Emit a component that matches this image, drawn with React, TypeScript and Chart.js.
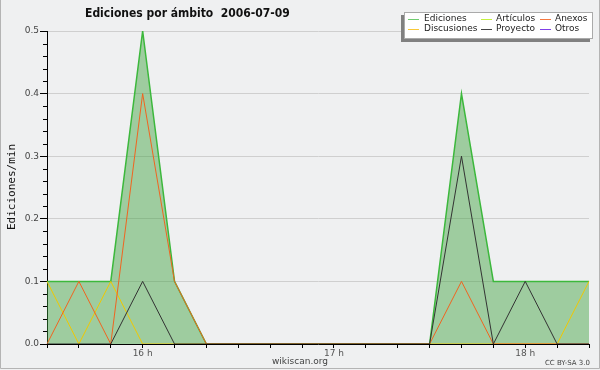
import React, { useEffect, useRef } from "react";
import { Chart, registerables } from "chart.js";

Chart.register(...registerables);

const times = ["15:30","15:40","15:50","16:00","16:10","16:20","16:30","16:40","16:50","17:00","17:10","17:20","17:30","17:40","17:50","18:00","18:10","18:20"];
const hourLabels: Record<string, string> = { "16:00": "16 h", "17:00": "17 h", "18:00": "18 h" };

const ediciones =   [0.1, 0.1, 0.1, 0.5, 0.1, 0, 0, 0, 0, 0, 0, 0, 0, 0.4, 0.1, 0.1, 0.1, 0.1];
const discusiones = [0.1, 0, 0.1, 0, 0, 0, 0, 0, 0, 0, 0, 0, 0, 0, 0, 0, 0, 0.1];
const anexos =      [0, 0.1, 0, 0.4, 0.1, 0, 0, 0, 0, 0, 0, 0, 0, 0.1, 0, 0, 0, 0];
const proyecto =    [0, 0, 0, 0.1, 0, 0, 0, 0, 0, 0, 0, 0, 0, 0.3, 0, 0.1, 0, 0];

const yTicks = [0, 0.1, 0.2, 0.3, 0.4, 0.5];

const titleText = "Ediciones por ámbito  2006-07-09";
const yTitle = "Ediciones/min";
const legendItems = [
  { label: "Ediciones", color: "#70cc70" },
  { label: "Artículos", color: "#c4f040" },
  { label: "Anexos", color: "#f57840" },
  { label: "Discusiones", color: "#f8c838" },
  { label: "Proyecto", color: "#444444" },
  { label: "Otros", color: "#8040e8" },
];

const FONT = "'DejaVu Sans', sans-serif";

const decorPlugin = {
  id: "decor",
  beforeDraw(chart: any) {
    const ctx = chart.ctx;
    ctx.save();
    ctx.fillStyle = "#eff0f1";
    ctx.fillRect(0, 0, chart.width, chart.height);
    ctx.restore();
  },
  afterDraw(chart: any) {
    const ctx = chart.ctx;
    const y = chart.scales.y;
    const area = chart.chartArea;
    ctx.save();
    // minor ticks
    ctx.strokeStyle = "#000";
    ctx.lineWidth = 1;
    for (let i = 0; i <= 25; i++) {
      if (i % 5 === 0) continue;
      const py = Math.round(y.getPixelForValue(i * 0.02)) + 0.5;
      ctx.beginPath();
      ctx.moveTo(area.left - 4, py);
      ctx.lineTo(area.left, py);
      ctx.stroke();
    }
    // title
    ctx.fillStyle = "#111";
    ctx.font = `bold 12px 'DejaVu Sans Condensed', ${FONT}`;
    ctx.textBaseline = "middle";
    ctx.textAlign = "left";
    ctx.fillText(titleText, 85, 14);
    // y title
    ctx.save();
    ctx.translate(12, 187);
    ctx.rotate(-Math.PI / 2);
    ctx.textAlign = "center";
    ctx.font = `11px 'DejaVu Sans Mono', monospace`;
    ctx.fillStyle = "#111";
    ctx.fillText(yTitle, 0, 0);
    ctx.restore();
    // bottom texts
    ctx.fillStyle = "#444";
    ctx.font = `9px ${FONT}`;
    ctx.textAlign = "center";
    ctx.fillText("wikiscan.org", 300, 362);
    ctx.font = `7px ${FONT}`;
    ctx.textAlign = "right";
    ctx.fillText("CC BY-SA 3.0", 590, 363);
    // legend
    ctx.fillStyle = "#808080";
    ctx.fillRect(401, 15, 189, 27);
    ctx.fillStyle = "#fff";
    ctx.fillRect(404, 12, 189, 27);
    ctx.strokeStyle = "#aaa";
    ctx.strokeRect(404.5, 12.5, 188, 26);
    const cols = [{ lx: 408, tx: 424 }, { lx: 481, tx: 496 }, { lx: 540, tx: 555 }];
    const rows = [19, 29];
    ctx.font = `9px ${FONT}`;
    ctx.textAlign = "left";
    legendItems.forEach((it, i) => {
      const c = cols[i % 3];
      const r = rows[Math.floor(i / 3)];
      ctx.strokeStyle = it.color;
      ctx.beginPath();
      ctx.moveTo(c.lx, r + 0.5);
      ctx.lineTo(c.lx + 11, r + 0.5);
      ctx.stroke();
      ctx.fillStyle = "#222";
      ctx.fillText(it.label, c.tx, r);
    });
    // frame
    ctx.strokeStyle = "#b4b4b4";
    ctx.beginPath();
    ctx.moveTo(0.5, 0);
    ctx.lineTo(0.5, 368.5);
    ctx.lineTo(599.5, 368.5);
    ctx.lineTo(599.5, 0);
    ctx.stroke();
    ctx.restore();
  },
};

export default function App() {
  const ref = useRef<HTMLCanvasElement>(null);
  useEffect(() => {
    document.body.style.margin = "0";
    const line = (label: string, data: number[], color: string, order: number, extra: any = {}) => ({
      label, data, borderColor: color, borderWidth: 1, pointRadius: 0, tension: 0, fill: false, order, ...extra,
    });
    const chart = new Chart(ref.current!, {
      type: "line",
      data: {
        labels: times,
        datasets: [
          line("Ediciones", ediciones, "#3cb83c", 10, { fill: "origin", backgroundColor: "rgba(60,160,60,0.45)", borderWidth: 1.5 }),
          line("Discusiones", discusiones, "#f0c800", 4),
          line("Anexos", anexos, "#f06420", 3),
          line("Proyecto", proyecto, "#333333", 2),
        ],
      },
      options: {
        responsive: false,
        animation: false,
        layout: { padding: { top: 31, right: 11, left: 0, bottom: 0 } },
        plugins: { legend: { display: false }, tooltip: { enabled: false }, title: { display: false } },
        scales: {
          x: {
            type: "category",
            offset: false,
            z: 1,
            border: { color: "#000", width: 1 },
            grid: { drawOnChartArea: false, drawTicks: true, tickLength: 4, tickColor: "#000" },
            ticks: {
              autoSkip: false,
              maxRotation: 0,
              padding: 0,
              color: "#555",
              font: { family: FONT, size: 9 },
              callback: (_v: any, i: number) => hourLabels[times[i]] || "",
            },
            afterFit: (s: any) => { s.height = 26; },
          },
          y: {
            min: 0,
            max: 0.5,
            afterBuildTicks: (s: any) => { s.ticks = yTicks.map((v) => ({ value: v })); },
            border: { color: "#000", width: 1 },
            grid: { color: "#cfcfcf", tickColor: "#000", tickLength: 7 },
            ticks: {
              padding: 1,
              color: "#444",
              font: { family: FONT, size: 9 },
              callback: (v: any) => Number(v).toFixed(1),
            },
            afterFit: (s: any) => { s.width = 47; },
          },
        },
      },
      plugins: [decorPlugin],
    });
    return () => chart.destroy();
  }, []);
  return <canvas ref={ref} width={600} height={370} style={{ display: "block" }} />;
}
